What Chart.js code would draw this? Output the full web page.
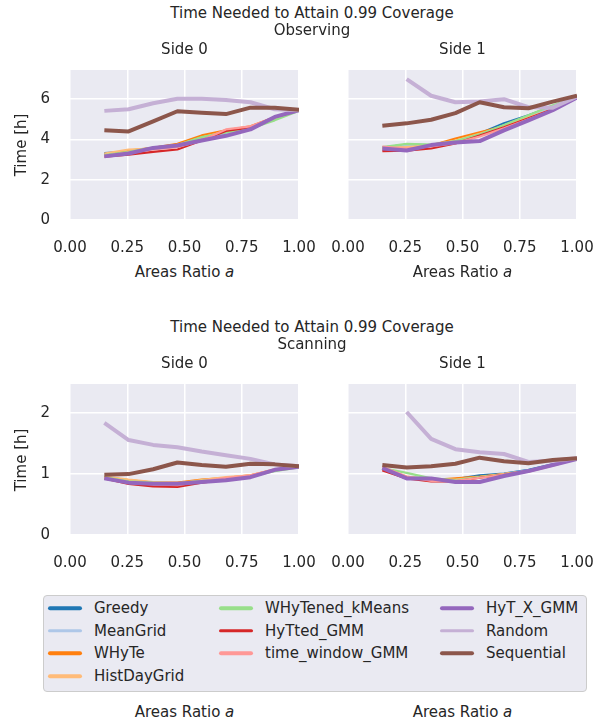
<!DOCTYPE html>
<html>
<head>
<meta charset="utf-8">
<script src="https://cdn.jsdelivr.net/npm/chart.js@4.4.0/dist/chart.umd.min.js"></script>
<style>
  body { margin: 0; background: #fff; font-family: "DejaVu Sans"; color: #262626; }
  #fig { position: relative; width: 606px; height: 721px; overflow: hidden; }
  .txt { position: absolute; font-size: 15px; line-height: 1; white-space: nowrap; transform: translate(-50%, -50%); }
  .ylab { transform: translate(-50%, -50%) rotate(-90deg); }
  canvas { position: absolute; }
  #legend { position: absolute; left: 43px; top: 595px; width: 544px; height: 97px; box-sizing: border-box;
            border: 1.5px solid #cccccc; border-radius: 4px; background: #eaeaf2; }
  .item { position: absolute; font-size: 15px; line-height: 1; white-space: nowrap; transform: translateY(-50%); }
  .handle { position: absolute; width: 34px; height: 3.5px; border-radius: 2px; transform: translateY(-50%); }
</style>
</head>
<body>
<div id="fig"></div>
<script>
// x positions (areas ratio a)
const areaRatio = [0.15, 0.256, 0.363, 0.469, 0.575, 0.681, 0.788, 0.894, 1.0];
const xTicks = [0, 0.25, 0.5, 0.75, 1.0];
const yTicksObs = [0, 2, 4, 6];
const yTicksScan = [0, 1, 2];

const seriesNames = ['Greedy', 'MeanGrid', 'WHyTe', 'HistDayGrid', 'WHyTened_kMeans',
  'HyTted_GMM', 'time_window_GMM', 'HyT_X_GMM', 'Random', 'Sequential'];
const seriesColors = ['#1f77b4', '#aec7e8', '#ff7f0e', '#ffbb78', '#98df8a',
  '#d62728', '#ff9896', '#9467bd', '#c5b0d5', '#8c564b'];
const thickSeries = ['HyT_X_GMM', 'Random', 'Sequential'];

// Observing, side 0 (rows in seriesNames order)
const obsSide0 = [
  [3.32, 3.40, 3.58, 3.75, 4.05, 4.35, 4.62, 5.05, 5.45],
  [3.20, 3.35, 3.55, 3.70, 4.00, 4.30, 4.60, 5.05, 5.45],
  [3.25, 3.45, 3.58, 3.78, 4.20, 4.45, 4.65, 5.10, 5.45],
  [3.30, 3.50, 3.55, 3.72, 4.10, 4.40, 4.62, 5.05, 5.45],
  [3.22, 3.38, 3.60, 3.72, 4.12, 4.35, 4.55, 4.95, 5.42],
  [3.15, 3.25, 3.38, 3.50, 3.95, 4.42, 4.60, 5.10, 5.45],
  [3.18, 3.35, 3.50, 3.62, 3.95, 4.50, 4.65, 5.10, 5.45],
  [3.16, 3.30, 3.58, 3.70, 3.95, 4.18, 4.50, 5.12, 5.45],
  [5.42, 5.50, 5.80, 6.02, 6.02, 5.96, 5.85, 5.50, 5.45],
  [4.46, 4.40, 4.90, 5.40, 5.33, 5.26, 5.58, 5.58, 5.48]
];
// Observing, side 1
const obsSide1 = [
  [3.60, 3.75, 3.72, 3.90, 4.30, 4.80, 5.20, 5.65, 6.10],
  [3.55, 3.70, 3.70, 3.85, 4.25, 4.70, 5.15, 5.60, 6.10],
  [3.55, 3.60, 3.70, 4.05, 4.35, 4.65, 5.05, 5.45, 6.10],
  [3.58, 3.62, 3.72, 3.95, 4.28, 4.65, 5.10, 5.50, 6.10],
  [3.62, 3.78, 3.75, 3.92, 4.25, 4.72, 5.20, 5.70, 6.10],
  [3.42, 3.45, 3.55, 3.80, 4.20, 4.60, 5.05, 5.50, 6.10],
  [3.65, 3.55, 3.65, 3.82, 4.15, 4.55, 5.00, 5.45, 6.10],
  [3.55, 3.45, 3.72, 3.85, 3.92, 4.45, 4.95, 5.45, 6.08],
  [null, 7.00, 6.17, 5.85, 5.88, 6.00, 5.60, 5.58, 6.13],
  [4.68, 4.80, 4.98, 5.31, 5.85, 5.60, 5.55, 5.88, 6.18]
];
// Scanning, side 0
const scanSide0 = [
  [0.95, 0.87, 0.85, 0.84, 0.88, 0.92, 0.97, 1.07, 1.12],
  [0.94, 0.88, 0.85, 0.85, 0.88, 0.93, 0.97, 1.06, 1.12],
  [0.95, 0.90, 0.86, 0.86, 0.91, 0.94, 0.98, 1.07, 1.12],
  [0.96, 0.91, 0.87, 0.85, 0.90, 0.95, 0.98, 1.08, 1.12],
  [0.95, 0.88, 0.86, 0.85, 0.89, 0.92, 0.96, 1.05, 1.11],
  [0.93, 0.84, 0.80, 0.79, 0.86, 0.91, 0.96, 1.07, 1.12],
  [0.94, 0.86, 0.83, 0.82, 0.88, 0.94, 0.98, 1.08, 1.12],
  [0.93, 0.86, 0.84, 0.84, 0.87, 0.90, 0.95, 1.07, 1.12],
  [1.84, 1.56, 1.48, 1.44, 1.37, 1.31, 1.25, 1.16, 1.13],
  [0.99, 1.00, 1.08, 1.19, 1.15, 1.12, 1.17, 1.16, 1.13]
];
// Scanning, side 1
const scanSide1 = [
  [1.10, 0.95, 0.92, 0.92, 0.98, 1.01, 1.07, 1.16, 1.25],
  [1.09, 0.95, 0.92, 0.90, 0.95, 1.00, 1.06, 1.15, 1.25],
  [1.08, 0.93, 0.90, 0.93, 0.96, 1.00, 1.05, 1.15, 1.25],
  [1.10, 0.96, 0.91, 0.91, 0.95, 1.00, 1.05, 1.15, 1.25],
  [1.10, 1.02, 0.93, 0.90, 0.95, 0.99, 1.05, 1.15, 1.25],
  [1.06, 0.93, 0.88, 0.88, 0.94, 0.99, 1.05, 1.15, 1.25],
  [1.12, 0.96, 0.89, 0.89, 0.94, 0.99, 1.04, 1.14, 1.25],
  [1.10, 0.93, 0.93, 0.87, 0.87, 0.97, 1.05, 1.15, 1.25],
  [null, 2.02, 1.58, 1.41, 1.36, 1.33, 1.20, 1.22, 1.26],
  [1.15, 1.11, 1.13, 1.17, 1.27, 1.21, 1.18, 1.23, 1.26]
];

Chart.defaults.font.family = 'DejaVu Sans';
Chart.defaults.color = '#262626';

const fig = document.getElementById('fig');
const PW = 229;
// space around each plot area inside its canvas
const PAD_L = 60, PAD_T = 34, PAD_R = 44, PAD_B = 40;

const panels = [
  { data: obsSide0,  x: 70,  y: 70,  h: 150, yMax: 7.45, yTicks: yTicksObs,  showY: true },
  { data: obsSide1,  x: 348, y: 70,  h: 150, yMax: 7.45, yTicks: yTicksObs,  showY: false },
  { data: scanSide0, x: 70,  y: 384, h: 151, yMax: 2.48, yTicks: yTicksScan, showY: true },
  { data: scanSide1, x: 348, y: 384, h: 151, yMax: 2.48, yTicks: yTicksScan, showY: false }
];

const axesBg = {
  id: 'axesBg',
  beforeDraw(chart) {
    const a = chart.chartArea, ctx = chart.ctx;
    ctx.save();
    ctx.fillStyle = '#eaeaf2';
    ctx.fillRect(a.left, a.top, a.right - a.left, a.bottom - a.top);
    ctx.restore();
  }
};

function makePanel(p) {
  const cv = document.createElement('canvas');
  const W = PW + PAD_L + PAD_R, H = p.h + PAD_T + PAD_B;
  cv.width = W; cv.height = H;
  cv.style.left = (p.x - PAD_L) + 'px';
  cv.style.top = (p.y - PAD_T) + 'px';
  fig.appendChild(cv);

  const gridOpts = { color: '#ffffff', lineWidth: 1.5, drawTicks: false };
  const tickFont = { family: 'DejaVu Sans', size: 15 };

  new Chart(cv, {
    type: 'line',
    data: {
      datasets: seriesNames.map((name, i) => ({
        label: name,
        data: areaRatio.map((x, j) => ({ x: x, y: p.data[i][j] })),
        borderColor: seriesColors[i],
        borderWidth: thickSeries.includes(name) ? 4 : 2.2,
        borderJoinStyle: 'round',
        pointRadius: 0,
        tension: 0,
        fill: false,
        order: -i
      }))
    },
    options: {
      responsive: false,
      animation: false,
      layout: { padding: { left: 0, top: PAD_T, right: PAD_R, bottom: 0 } },
      plugins: { legend: { display: false }, tooltip: { enabled: false } },
      scales: {
        x: {
          type: 'linear', min: 0, max: 1,
          afterBuildTicks: s => { s.ticks = xTicks.map(v => ({ value: v })); },
          afterFit: s => { s.height = PAD_B; },
          grid: gridOpts,
          border: { display: false },
          ticks: { padding: 19, color: '#262626', font: tickFont, maxRotation: 0, autoSkip: false,
                   callback: v => Number(v).toFixed(2) }
        },
        y: {
          type: 'linear', min: 0, max: p.yMax,
          afterBuildTicks: s => { s.ticks = p.yTicks.map(v => ({ value: v })); },
          afterFit: s => { s.width = PAD_L; },
          grid: gridOpts,
          border: { display: false },
          ticks: { display: p.showY, padding: 20, color: '#262626', font: tickFont,
                   callback: v => String(v) }
        }
      }
    },
    plugins: [axesBg]
  });
}

panels.forEach(makePanel);

function addText(html, x, y, cls) {
  const d = document.createElement('div');
  d.className = 'txt' + (cls ? ' ' + cls : '');
  d.innerHTML = html;
  d.style.left = x + 'px';
  d.style.top = y + 'px';
  fig.appendChild(d);
}

const xTitle = 'Areas Ratio <i>a</i>';
[[70, 'Observing'], [384, 'Scanning']].forEach(([top, mode]) => {
  addText('Time Needed to Attain 0.99 Coverage', 312, top - 57.5);
  addText(mode, 312, top - 40.5);
  addText('Side 0', 184.5, top - 21);
  addText('Side 1', 462.5, top - 21);
});
addText('Time [h]', 20.5, 145, 'ylab');
addText('Time [h]', 20.5, 459.5, 'ylab');
addText(xTitle, 184.5, 271.5);
addText(xTitle, 462.5, 271.5);
addText(xTitle, 184.5, 711.5);
addText(xTitle, 462.5, 711.5);

// legend, filled column by column (4, 3, 3)
const legend = document.createElement('div');
legend.id = 'legend';
fig.appendChild(legend);
const colHandleX = [4, 175, 396];
const colTextX = [50, 221, 442];
const colStart = [0, 4, 7];
seriesNames.forEach((name, i) => {
  const col = i < 4 ? 0 : (i < 7 ? 1 : 2);
  const row = i - colStart[col];
  const cy = 12 + row * 22.7;
  const h = document.createElement('div');
  h.className = 'handle';
  h.style.left = colHandleX[col] + 'px';
  h.style.top = cy + 'px';
  h.style.background = seriesColors[i];
  legend.appendChild(h);
  const t = document.createElement('div');
  t.className = 'item';
  t.textContent = name;
  t.style.left = colTextX[col] + 'px';
  t.style.top = cy + 'px';
  legend.appendChild(t);
});
</script>
</body>
</html>
